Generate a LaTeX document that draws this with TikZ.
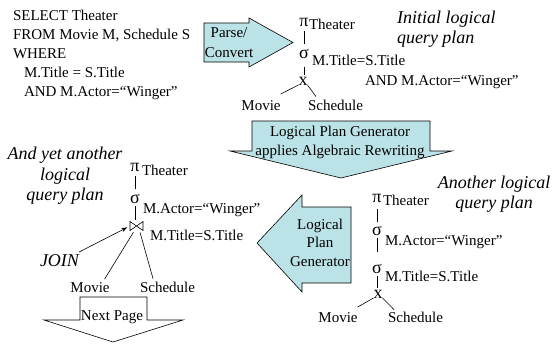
\documentclass[tikz,border=0pt]{standalone}
\usepackage{fontspec}
\setmainfont{Liberation Serif}
\usetikzlibrary{arrows.meta}
\definecolor{arrowfill}{RGB}{187,226,230}
\begin{document}
\begin{tikzpicture}[x=1pt,y=-1pt,
  txt/.style={inner sep=0pt, outer sep=0pt, font=\fontsize{15}{18}\selectfont},
  lbl/.style={inner sep=0pt, outer sep=0pt, font=\fontsize{18}{21}\selectfont\itshape},
  glyph/.style={txt, anchor=base},
  op/.style={inner sep=0pt, outer sep=0pt, anchor=base, font=\fontsize{18}{21}\selectfont},
  edge/.style={draw=black, line width=0.6pt},
  blockarrow/.style={draw=black, line width=0.6pt, fill=arrowfill, line join=miter},
]
\useasboundingbox (0,0) rectangle (556,343);

% SQL query
\node[txt, anchor=base west] (sql1) at (13,20) {SELECT Theater};
\node[txt, anchor=base west] (sql2) at (13,39) {FROM Movie M, Schedule S};
\node[txt, anchor=base west] (sql3) at (13,58) {WHERE};
\node[txt, anchor=base west] (sql4) at (24,77) {M.Title = S.Title};
\node[txt, anchor=base west] (sql5) at (24,96) {AND M.Actor=“Winger”};

% Parse/Convert arrow
\draw[blockarrow] (204,23) -- (249,23) -- (249,18) -- (293,42.5) -- (249,67) -- (249,62) -- (204,62) -- cycle;
\node[glyph] (parse1) at (229,37) {Parse/};
\node[glyph] (parse2) at (229,57) {Convert};

% Initial logical query plan
\node[op] (pi1) at (304,26) {π};
\node[txt, anchor=base west] (th1) at (309,29) {Theater};
\node[op] (sig1) at (304,58) {σ};
\node[txt, anchor=base west] (c1a) at (312,65) {M.Title=S.Title};
\node[txt, anchor=base west] (c1b) at (365,85) {AND M.Actor=“Winger”};
\node[op] (x1) at (303,85) {x};
\node[glyph] (mov1) at (261,110) {Movie};
\node[txt, anchor=base west] (sch1) at (308,110) {Schedule};
\draw[edge] ([yshift=-5pt]pi1.south) -- ([yshift=5pt]pi1.south |- sig1.north);
\draw[edge] ([yshift=-9pt]sig1.south) -- ([yshift=2pt]sig1.south |- x1.north);
\draw[edge] (x1.south west) -- ([yshift=6pt]mov1.north east);
\draw[edge] (x1.south east) -- ([xshift=8pt,yshift=3pt]sch1.north west);
\node[lbl, anchor=base west] (t1a) at (397,23) {Initial logical};
\node[lbl, anchor=base west] (t1b) at (397,43) {query plan};

% Rewriting arrow
\draw[blockarrow] (252,121) -- (430,121) -- (430,151) -- (452,151) -- (341,178) -- (230,151) -- (252,151) -- cycle;
\node[glyph] (rw1) at (340,136) {Logical Plan Generator};
\node[glyph] (rw2) at (340,155) {applies Algebraic Rewriting};

% Another logical query plan
\node[op] (pi2) at (377,202) {π};
\node[txt, anchor=base west] (th2) at (383,205) {Theater};
\node[op] (sig2) at (377,235) {σ};
\node[txt, anchor=base west] (c2a) at (385,245) {M.Actor=“Winger”};
\node[op] (sig3) at (377,273) {σ};
\node[txt, anchor=base west] (c2b) at (385,281) {M.Title=S.Title};
\node[op] (x2) at (378,298) {x};
\node[glyph] (mov2) at (338,322) {Movie};
\node[txt, anchor=base west] (sch2) at (388,322) {Schedule};
\draw[edge] ([yshift=-7pt]pi2.south) -- ([yshift=4pt]pi2.south |- sig2.north);
\draw[edge] ([yshift=-3pt]sig2.south) -- ([yshift=12pt]sig2.south |- sig3.north);
\draw[edge] ([yshift=-3pt]sig3.south) -- ([yshift=2pt]sig3.south |- x2.north);
\draw[edge] (x2.south west) -- ([yshift=5pt]mov2.north east);
\draw[edge] (x2.south east) -- ([xshift=6pt,yshift=2pt]sch2.north west);
\node[lbl, anchor=base] (t2a) at (494,188) {Another logical};
\node[lbl, anchor=base] (t2b) at (494,208) {query plan};

% Left arrow
\draw[blockarrow] (351,207) -- (302,207) -- (302,195) -- (257,243) -- (302,292) -- (302,283) -- (351,283) -- cycle;
\node[glyph] (lg1) at (320,229) {Logical};
\node[glyph] (lg2) at (320,247) {Plan};
\node[glyph] (lg3) at (320,266) {Generator};

% And yet another logical query plan
\node[op] (pi3) at (135,171) {π};
\node[txt, anchor=base west] (th3) at (142,175) {Theater};
\node[op] (sig4) at (135,203) {σ};
\node[txt, anchor=base west] (c3a) at (143,213) {M.Actor=“Winger”};
\node[minimum width=13pt, minimum height=9pt, inner sep=0pt, outer sep=0pt] (join) at (136.5,226) {};
\draw[edge, line join=miter] (join.north west) -- (join.south west) -- (join.north east) -- (join.south east) -- cycle;
\node[txt, anchor=base west] (c3b) at (150,240) {M.Title=S.Title};
\node[glyph] (mov3) at (90,292) {Movie};
\node[txt, anchor=base west] (sch3) at (140,292) {Schedule};
\draw[edge] ([yshift=-5pt]pi3.south) -- ([yshift=5pt]pi3.south |- sig4.north);
\draw[edge] ([yshift=-3pt]sig4.south) -- ([yshift=2pt]sig4.south |- join.north);
\draw[edge, shorten <=2pt] ([xshift=-2pt]join.south) -- ([xshift=-5pt,yshift=3pt]mov3.north east);
\draw[edge, shorten <=2pt] ([xshift=3pt]join.south) -- ([xshift=13pt,yshift=3pt]sch3.north west);
\node[lbl, anchor=base] (t3a) at (65,159) {And yet another};
\node[lbl, anchor=base] (t3b) at (65,180) {logical};
\node[lbl, anchor=base] (t3c) at (65,200) {query plan};

% JOIN pointer
\node[lbl, anchor=base west] (jn) at (40,266) {JOIN};
\draw[edge, -{Stealth[length=6pt,width=4pt]}, shorten >=3pt] ([yshift=2pt]jn.north east) -- (join.west);

% Next Page arrow
\draw[edge, fill=white, line join=miter] (80,297) -- (147,297) -- (147,320) -- (183,320) -- (113,342) -- (44,320) -- (80,320) -- cycle;
\node[glyph] (np) at (112,320) {Next Page};
\end{tikzpicture}
\end{document}
